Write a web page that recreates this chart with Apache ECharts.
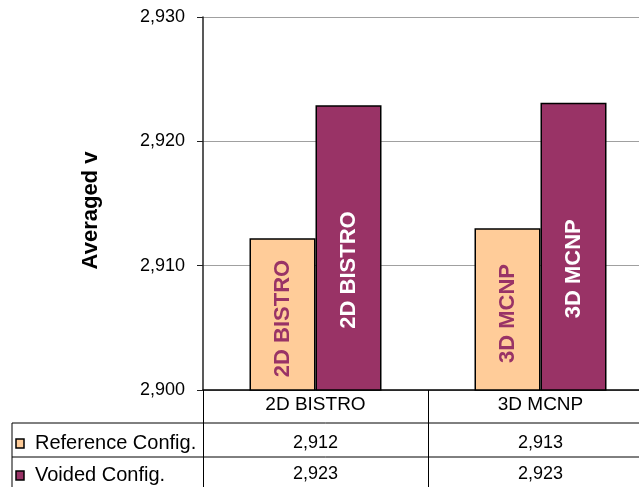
<!DOCTYPE html>
<html>
<head>
<meta charset="utf-8">
<script src="https://cdn.jsdelivr.net/npm/echarts@6/dist/echarts.min.js"></script>
<style>
  html, body { margin: 0; padding: 0; background: #fff; }
  #chart { width: 639px; height: 487px; }
</style>
</head>
<body>
<div id="chart"></div>
<script>
// Averaged nu for the reference and voided configurations
const categories = ['2D BISTRO', '3D MCNP'];
const seriesNames = ['Reference Config.', 'Voided Config.'];
const referenceValues = [2.9122, 2.9130];
const voidedValues = [2.9229, 2.9231];
const yTicks = { min: 2.900, max: 2.930, step: 0.010 };

const refColor = '#FFCC99';
const voidColor = '#993366';
const font = '"Liberation Sans", Arial, sans-serif';

const fmt = v => v.toFixed(3).replace('.', ',');

const chart = echarts.init(document.getElementById('chart'));

// Rotated in-bar label; offset x moves the text along the bar (negative = down)
const barLabel = (color, dy) => ({
  show: true,
  position: 'inside',
  rotate: 90,
  offset: [-dy, 0],
  formatter: p => p.name,
  color: color,
  fontFamily: font,
  fontWeight: 'bold',
  fontSize: 22
});

chart.setOption({
  animation: false,
  backgroundColor: '#fff',
  grid: { left: 203, top: 17, width: 450, bottom: 97, outerBoundsMode: 'none', containLabel: false },
  xAxis: {
    type: 'category',
    data: categories,
    axisLine: { show: true, lineStyle: { color: '#000', width: 1.5 } },
    axisTick: { show: true, length: 97, alignWithLabel: false, lineStyle: { color: '#000', width: 1 } },
    axisLabel: {
      margin: -4,
      interval: 0,
      fontFamily: font,
      color: '#000',
      formatter: name => {
        const i = categories.indexOf(name);
        return '{h|' + name + '}\n{v|' + fmt(referenceValues[i]) + '}\n{w|' + fmt(voidedValues[i]) + '}';
      },
      rich: {
        h: { fontFamily: font, fontSize: 19, color: '#000', lineHeight: 38 },
        v: { fontFamily: font, fontSize: 18, color: '#000', lineHeight: 38 },
        w: { fontFamily: font, fontSize: 18, color: '#000', lineHeight: 24 }
      }
    }
  },
  yAxis: {
    type: 'value',
    min: yTicks.min,
    max: yTicks.max,
    interval: yTicks.step,
    name: 'Averaged v',
    nameLocation: 'middle',
    nameRotate: 90,
    nameGap: 101,
    nameTextStyle: { fontFamily: font, fontWeight: 'bold', fontSize: 22, color: '#000', padding: [0, 14, 0, 0] },
    axisLine: { show: true, lineStyle: { color: '#222', width: 1.5 } },
    axisTick: { show: true, inside: false, length: 6, lineStyle: { color: '#222' } },
    axisLabel: { formatter: v => fmt(v), fontFamily: font, fontSize: 18, color: '#000', margin: 18 },
    splitLine: { show: true, lineStyle: { color: '#a0a0a0', width: 1 } }
  },
  series: [
    {
      name: seriesNames[0],
      type: 'bar',
      data: referenceValues,
      barWidth: 66,
      barGap: '0%',
      itemStyle: { color: refColor, borderColor: '#000', borderWidth: 1.5 },
      label: barLabel(voidColor, 4)
    },
    {
      name: seriesNames[1],
      type: 'bar',
      data: voidedValues,
      barWidth: 66,
      barGap: '0%',
      itemStyle: { color: voidColor, borderColor: '#000', borderWidth: 1.5 },
      label: barLabel('#fff', 22)
    }
  ],
  graphic: [
    // data table rules
    { type: 'line', shape: { x1: 12, y1: 423, x2: 639, y2: 423 }, style: { stroke: '#000', lineWidth: 1 } },
    { type: 'line', shape: { x1: 12, y1: 457, x2: 639, y2: 457 }, style: { stroke: '#000', lineWidth: 1 } },
    { type: 'line', shape: { x1: 12, y1: 423, x2: 12, y2: 487 }, style: { stroke: '#000', lineWidth: 1 } },
    // row keys
    { type: 'rect', shape: { x: 16, y: 439, width: 8, height: 9 }, style: { fill: refColor, stroke: '#000', lineWidth: 1.5 } },
    { type: 'rect', shape: { x: 16, y: 471, width: 8, height: 9 }, style: { fill: voidColor, stroke: '#000', lineWidth: 1.5 } },
    { type: 'text', x: 35, y: 443, style: { text: seriesNames[0], font: '20px ' + font, fill: '#000', verticalAlign: 'middle' } },
    { type: 'text', x: 35, y: 475, style: { text: seriesNames[1], font: '20px ' + font, fill: '#000', verticalAlign: 'middle' } }
  ]
});
</script>
</body>
</html>
